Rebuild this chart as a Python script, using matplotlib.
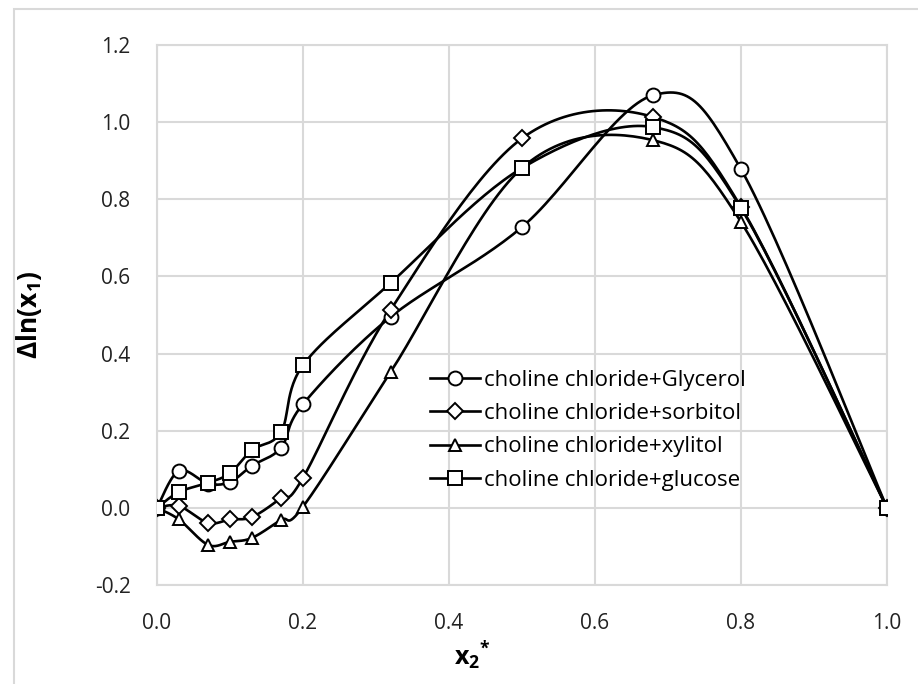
import numpy as np
import matplotlib
matplotlib.use("Agg")
import matplotlib.pyplot as plt
from matplotlib.lines import Line2D

plt.rcParams['font.family'] = ['Open Sans', 'DejaVu Sans']
plt.rcParams['mathtext.fontset'] = 'custom'
plt.rcParams['mathtext.rm'] = 'Open Sans'
plt.rcParams['mathtext.bf'] = 'Open Sans:bold'

# data
x2 = [0.0, 0.03, 0.07, 0.10, 0.13, 0.17, 0.20, 0.32, 0.50, 0.68, 0.80, 1.0]
glycerol = [0.0, 0.096, 0.063, 0.067, 0.109, 0.156, 0.269, 0.495, 0.728, 1.070, 0.878, 0.0]
sorbitol = [0.0, 0.005, -0.039, -0.030, -0.024, 0.026, 0.078, 0.513, 0.958, 1.013, 0.780, 0.0]
xylitol = [0.0, -0.030, -0.096, -0.088, -0.078, -0.031, 0.003, 0.352, 0.881, 0.953, 0.741, 0.0]
glucose = [0.0, 0.041, 0.065, 0.090, 0.150, 0.197, 0.370, 0.583, 0.881, 0.987, 0.777, 0.0]

labels = ["choline chloride+Glycerol", "choline chloride+sorbitol",
          "choline chloride+xylitol", "choline chloride+glucose"]
series = [glycerol, sorbitol, xylitol, glucose]
markers = ['o', 'D', '^', 's']
msizes = [10, 8, 9, 10]

# x/y scale in pixels so the smoothing behaves like excel's (screen space)
SX, SY = 730.0, 386.0


def smooth(xs, ys, n=30):
    # catmull-rom style bezier through the points
    p = np.column_stack([np.array(xs) * SX, np.array(ys) * SY])
    out = [p[0]]
    for i in range(len(p) - 1):
        p0 = p[i - 1] if i > 0 else p[i]
        p1 = p[i]
        p2 = p[i + 1]
        p3 = p[i + 2] if i + 2 < len(p) else p[i + 1]
        c1 = p1 + (p2 - p0) / 6.0
        c2 = p2 - (p3 - p1) / 6.0
        t = np.linspace(0, 1, n)[1:, None]
        seg = ((1 - t) ** 3) * p1 + 3 * ((1 - t) ** 2) * t * c1 \
            + 3 * (1 - t) * t ** 2 * c2 + t ** 3 * p2
        out.extend(seg)
    out = np.array(out)
    return out[:, 0] / SX, out[:, 1] / SY


fig = plt.figure(figsize=(9.18, 6.84), dpi=100)
ax = fig.add_axes([157 / 918, 1 - 585 / 684, 730 / 918, 540 / 684])

# outer chart border
fig.add_artist(plt.Rectangle((14 / 918, -0.1), 1.2, (684 - 9) / 684 + 0.1,
                             transform=fig.transFigure, fill=False,
                             edgecolor='#d9d9d9', linewidth=1.5))

for ys, m, ms in zip(series, markers, msizes):
    sx, sy = smooth(x2, ys)
    ax.plot(sx, sy, color='black', linewidth=1.9, zorder=2)
    ax.plot(x2, ys, linestyle='none', marker=m, markersize=ms,
            markerfacecolor='white', markeredgecolor='black',
            markeredgewidth=1.4, zorder=3)

ax.set_xlim(0, 1.0)
ax.set_ylim(-0.2, 1.2)
ax.set_xticks(np.arange(0, 1.01, 0.2))
ax.set_yticks(np.arange(-0.2, 1.21, 0.2))
ax.set_xticklabels([f"{v:.1f}" for v in np.arange(0, 1.01, 0.2)])
ax.set_yticklabels([f"{v:.1f}" for v in np.arange(-0.2, 1.21, 0.2)])
ax.tick_params(length=0, labelsize=15, colors='#222222')
ax.tick_params(axis='y', pad=19)
ax.tick_params(axis='x', pad=20)
ax.grid(True, color='#d9d9d9', linewidth=1.5)
ax.set_axisbelow(True)
for s in ax.spines.values():
    s.set_color('#d9d9d9')
    s.set_linewidth(1.5)

ax.set_xlabel(r'$\mathbf{x_2}^{\mathbf{*}}$', fontsize=18)
ax.set_ylabel(r'$\mathbf{\Delta ln(x_1)}$', fontsize=19)
ax.xaxis.set_label_coords((472 - 157) / 730, -0.10)
ax.yaxis.set_label_coords(-0.155, 0.5)

handles = [Line2D([], [], color='black', linewidth=1.9, marker=m,
                  markersize=ms, markerfacecolor='white',
                  markeredgecolor='black', markeredgewidth=1.4)
           for m, ms in zip(markers, msizes)]
fig.legend(handles, labels, loc='upper left',
           bbox_to_anchor=(421 / 918, 1 - 361 / 684), frameon=False,
           fontsize=16, handlelength=2.25, handletextpad=0.2,
           labelspacing=0.55, borderaxespad=0)

fig.savefig('out.png', dpi=100)
